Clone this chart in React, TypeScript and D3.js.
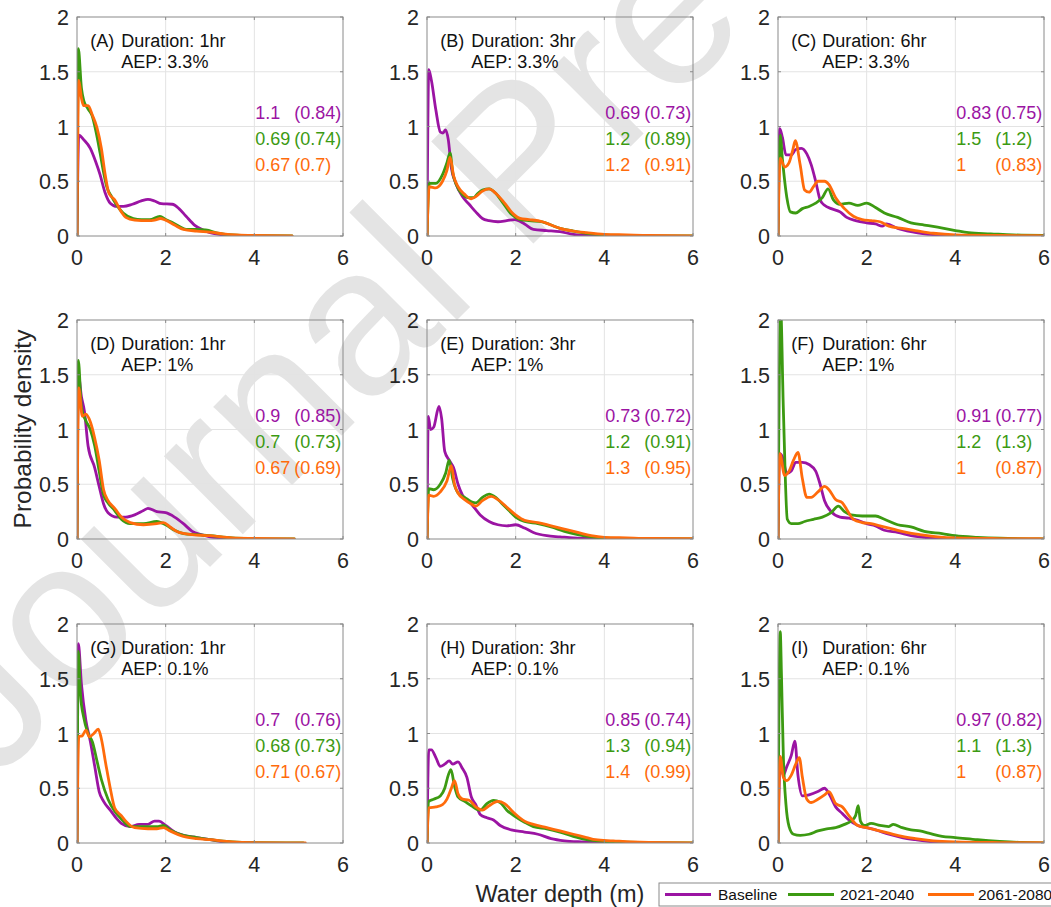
import React from 'react';
import * as d3 from 'd3';

type Pt = [number, number];

const panelLetters = ['A', 'B', 'C', 'D', 'E', 'F', 'G', 'H', 'I'];
const durations = ['1hr', '3hr', '6hr'];
const aeps = ['3.3%', '1%', '0.1%'];
const seriesNames = ['Baseline', '2021-2040', '2061-2080'];
const seriesColors = ['#9b14a3', '#3c9a12', '#ff6b0b'];
const xTicks = [0, 2, 4, 6];
const yTicks = [0, 0.5, 1, 1.5, 2];

// statistics printed in each panel: [baseline, 2021-2040, 2061-2080]
const statsMain = [
  ['1.1', '0.69', '0.67'], ['0.69', '1.2', '1.2'], ['0.83', '1.5', '1'],
  ['0.9', '0.7', '0.67'], ['0.73', '1.2', '1.3'], ['0.91', '1.2', '1'],
  ['0.7', '0.68', '0.71'], ['0.85', '1.3', '1.4'], ['0.97', '1.1', '1'],
];
const statsParen = [
  ['(0.84)', '(0.74)', '(0.7)'], ['(0.73)', '(0.89)', '(0.91)'], ['(0.75)', '(1.2)', '(0.83)'],
  ['(0.85)', '(0.73)', '(0.69)'], ['(0.72)', '(0.91)', '(0.95)'], ['(0.77)', '(1.3)', '(0.87)'],
  ['(0.76)', '(0.73)', '(0.67)'], ['(0.74)', '(0.94)', '(0.99)'], ['(0.82)', '(1.3)', '(0.87)'],
];

// ---- Panel A (1hr, 3.3%)
const A_base: Pt[] = [[0,0],[0.04,0.92],[0.15,0.88],[0.3,0.8],[0.42,0.68],[0.52,0.56],[0.63,0.4],[0.75,0.3],[0.9,0.27],[1.05,0.27],[1.25,0.29],[1.45,0.32],[1.6,0.335],[1.75,0.32],[1.9,0.295],[2.15,0.29],[2.3,0.25],[2.46,0.18],[2.65,0.1],[2.84,0.055],[3.0,0.03],[3.3,0.01],[3.6,0.003],[4.0,0]];
const A_mid: Pt[] = [[0,0],[0.03,1.71],[0.1,1.35],[0.15,1.24],[0.25,1.16],[0.34,1.1],[0.43,0.95],[0.52,0.76],[0.6,0.58],[0.67,0.45],[0.78,0.36],[0.9,0.28],[1.04,0.21],[1.27,0.16],[1.45,0.15],[1.64,0.15],[1.87,0.18],[2.0,0.15],[2.16,0.12],[2.3,0.09],[2.46,0.06],[2.7,0.06],[2.9,0.055],[3.2,0.025],[3.5,0.01],[4.0,0.003],[4.85,0]];
const A_late: Pt[] = [[0,0],[0.04,1.42],[0.1,1.26],[0.15,1.19],[0.25,1.19],[0.35,1.1],[0.45,0.99],[0.55,0.8],[0.64,0.55],[0.72,0.39],[0.85,0.33],[1.0,0.22],[1.1,0.17],[1.3,0.145],[1.6,0.14],[1.75,0.145],[1.88,0.16],[2.0,0.145],[2.2,0.1],[2.4,0.06],[2.7,0.045],[3.0,0.035],[3.3,0.02],[3.6,0.01],[4.0,0.005],[4.85,0.002]];

// ---- Panel B (3hr, 3.3%)
const B_base: Pt[] = [[0,0],[0.04,1.52],[0.1,1.42],[0.2,1.15],[0.3,0.95],[0.36,0.94],[0.42,0.97],[0.48,0.88],[0.55,0.62],[0.65,0.48],[0.8,0.36],[0.95,0.29],[1.1,0.22],[1.25,0.16],[1.4,0.14],[1.6,0.13],[1.8,0.14],[1.98,0.15],[2.2,0.11],[2.4,0.06],[2.7,0.05],[3.0,0.04],[3.3,0.015],[3.6,0.005],[4.0,0.002],[4.6,0]];
const B_mid: Pt[] = [[0,0],[0.05,0.48],[0.2,0.48],[0.35,0.56],[0.45,0.67],[0.52,0.76],[0.58,0.58],[0.66,0.47],[0.8,0.38],[0.95,0.35],[1.05,0.35],[1.15,0.39],[1.25,0.42],[1.4,0.43],[1.55,0.39],[1.7,0.31],[1.9,0.2],[2.1,0.15],[2.3,0.14],[2.6,0.13],[2.8,0.1],[3.0,0.07],[3.3,0.045],[3.6,0.025],[4.0,0.01],[4.5,0.005],[5.0,0.002],[6.0,0]];
const B_late: Pt[] = [[0,0],[0.05,0.45],[0.2,0.44],[0.35,0.5],[0.45,0.6],[0.52,0.72],[0.6,0.55],[0.7,0.45],[0.85,0.38],[1.0,0.34],[1.1,0.36],[1.25,0.41],[1.4,0.43],[1.55,0.39],[1.75,0.3],[1.95,0.2],[2.1,0.16],[2.3,0.15],[2.6,0.13],[2.8,0.1],[3.0,0.07],[3.3,0.045],[3.6,0.03],[4.0,0.015],[4.5,0.01],[5.0,0.005],[6.0,0.002]];

// ---- Panel C (6hr, 3.3%)
const C_base: Pt[] = [[0,0],[0.04,0.98],[0.1,0.9],[0.18,0.74],[0.3,0.74],[0.4,0.79],[0.53,0.8],[0.65,0.75],[0.75,0.65],[0.85,0.5],[0.95,0.33],[1.05,0.28],[1.2,0.25],[1.4,0.22],[1.55,0.17],[1.75,0.14],[2.0,0.12],[2.2,0.11],[2.35,0.09],[2.45,0.11],[2.7,0.07],[3.0,0.04],[3.3,0.02],[3.6,0.01],[4.0,0.003],[4.5,0]];
const C_mid: Pt[] = [[0,0],[0.05,0.92],[0.1,0.7],[0.2,0.35],[0.28,0.22],[0.4,0.21],[0.55,0.25],[0.7,0.27],[0.85,0.3],[1.0,0.35],[1.13,0.43],[1.25,0.33],[1.4,0.29],[1.6,0.3],[1.8,0.28],[2.0,0.3],[2.2,0.26],[2.4,0.21],[2.7,0.17],[3.0,0.12],[3.3,0.1],[3.6,0.08],[4.0,0.05],[4.3,0.03],[4.8,0.02],[5.3,0.01],[6.0,0.005]];
const C_late: Pt[] = [[0,0],[0.05,0.71],[0.15,0.63],[0.25,0.67],[0.33,0.78],[0.39,0.87],[0.5,0.65],[0.6,0.42],[0.7,0.4],[0.8,0.45],[0.9,0.5],[1.05,0.5],[1.15,0.47],[1.3,0.35],[1.5,0.25],[1.7,0.18],[1.9,0.15],[2.1,0.14],[2.3,0.13],[2.5,0.09],[2.8,0.07],[3.1,0.05],[3.5,0.025],[4.0,0.01],[5.0,0.005],[6.0,0.002]];

// ---- Panel D (1hr, 1%)
const D_base: Pt[] = [[0,0],[0.03,1.5],[0.1,1.3],[0.17,1.16],[0.25,0.85],[0.4,0.65],[0.5,0.48],[0.6,0.32],[0.7,0.24],[0.9,0.2],[1.1,0.2],[1.3,0.22],[1.5,0.26],[1.6,0.28],[1.8,0.25],[2.0,0.24],[2.2,0.2],[2.4,0.14],[2.6,0.07],[2.8,0.04],[3.0,0.02],[3.3,0.01],[3.6,0.002],[4.0,0]];
const D_mid: Pt[] = [[0,0],[0.03,1.63],[0.1,1.2],[0.2,1.08],[0.3,1.0],[0.4,0.85],[0.5,0.62],[0.6,0.4],[0.7,0.33],[0.85,0.26],[1.0,0.18],[1.2,0.14],[1.5,0.14],[1.8,0.16],[2.0,0.13],[2.2,0.08],[2.4,0.05],[2.7,0.04],[3.0,0.03],[3.5,0.01],[4.0,0.004],[4.9,0]];
const D_late: Pt[] = [[0,0],[0.04,1.38],[0.12,1.12],[0.2,1.14],[0.3,1.07],[0.4,0.92],[0.5,0.72],[0.6,0.45],[0.7,0.35],[0.85,0.28],[1.0,0.2],[1.2,0.15],[1.5,0.13],[1.8,0.14],[1.95,0.15],[2.1,0.11],[2.3,0.06],[2.6,0.04],[3.0,0.03],[3.5,0.01],[4.0,0.005],[4.9,0.001]];

// ---- Panel E (3hr, 1%)
const E_base: Pt[] = [[0,0],[0.03,1.12],[0.08,1.0],[0.15,1.02],[0.27,1.21],[0.33,1.1],[0.4,0.8],[0.5,0.72],[0.6,0.65],[0.7,0.5],[0.8,0.4],[1.0,0.32],[1.2,0.22],[1.4,0.16],[1.6,0.13],[1.8,0.12],[2.0,0.13],[2.2,0.1],[2.4,0.06],[2.7,0.03],[3.0,0.02],[3.3,0.01],[3.6,0.005],[4.0,0]];
const E_mid: Pt[] = [[0,0],[0.04,0.46],[0.15,0.45],[0.3,0.5],[0.42,0.6],[0.5,0.72],[0.58,0.55],[0.7,0.42],[0.85,0.38],[1.0,0.34],[1.1,0.33],[1.25,0.38],[1.4,0.41],[1.55,0.38],[1.7,0.32],[1.85,0.26],[2.0,0.2],[2.2,0.16],[2.5,0.14],[2.8,0.11],[3.1,0.07],[3.4,0.04],[3.7,0.02],[4.0,0.01],[4.5,0.005],[5.0,0.003],[6.0,0.002]];
const E_late: Pt[] = [[0,0],[0.04,0.4],[0.15,0.39],[0.3,0.43],[0.45,0.53],[0.55,0.67],[0.62,0.5],[0.7,0.42],[0.85,0.36],[1.0,0.32],[1.1,0.3],[1.25,0.35],[1.45,0.39],[1.6,0.36],[1.8,0.29],[2.0,0.22],[2.2,0.17],[2.5,0.15],[2.8,0.12],[3.1,0.09],[3.4,0.06],[3.7,0.03],[4.0,0.015],[4.5,0.01],[5.0,0.005],[6.0,0.003]];

// ---- Panel F (6hr, 1%)
const F_base: Pt[] = [[0,0],[0.04,0.78],[0.1,0.75],[0.2,0.6],[0.3,0.62],[0.4,0.7],[0.55,0.7],[0.7,0.68],[0.85,0.62],[0.95,0.5],[1.05,0.35],[1.2,0.25],[1.4,0.2],[1.6,0.19],[1.8,0.17],[2.0,0.14],[2.2,0.12],[2.4,0.08],[2.7,0.06],[3.0,0.03],[3.3,0.015],[3.6,0.005],[4.0,0]];
const F_mid: Pt[] = [[0,0],[0.06,2.1],[0.12,1.2],[0.21,0.18],[0.3,0.14],[0.45,0.14],[0.6,0.16],[0.8,0.18],[1.0,0.2],[1.2,0.24],[1.36,0.3],[1.5,0.25],[1.65,0.22],[1.9,0.21],[2.2,0.21],[2.4,0.18],[2.7,0.13],[3.0,0.11],[3.3,0.07],[3.7,0.05],[4.0,0.03],[4.5,0.015],[5.0,0.007],[6.0,0.002]];
const F_late: Pt[] = [[0,0],[0.04,0.78],[0.15,0.58],[0.25,0.62],[0.35,0.72],[0.45,0.79],[0.55,0.55],[0.65,0.38],[0.75,0.38],[0.9,0.43],[1.05,0.48],[1.15,0.45],[1.3,0.36],[1.45,0.33],[1.55,0.27],[1.7,0.18],[1.9,0.15],[2.1,0.14],[2.3,0.12],[2.6,0.09],[2.9,0.06],[3.2,0.04],[3.6,0.02],[4.0,0.01],[5.0,0.004],[6.0,0.002]];

// ---- Panel G (1hr, 0.1%)
const G_base: Pt[] = [[0,0],[0.03,1.82],[0.1,1.45],[0.2,1.12],[0.3,0.93],[0.4,0.7],[0.5,0.47],[0.6,0.38],[0.75,0.3],[0.9,0.22],[1.0,0.18],[1.2,0.15],[1.4,0.17],[1.6,0.17],[1.75,0.2],[1.85,0.2],[2.0,0.16],[2.2,0.1],[2.4,0.07],[2.7,0.05],[3.0,0.03],[3.3,0.01],[3.6,0.002],[4.0,0]];
const G_mid: Pt[] = [[0,0],[0.03,1.75],[0.08,1.35],[0.15,1.15],[0.25,1.0],[0.35,0.92],[0.45,0.75],[0.55,0.58],[0.7,0.4],[0.85,0.29],[1.0,0.22],[1.2,0.15],[1.5,0.15],[1.8,0.15],[1.95,0.16],[2.1,0.12],[2.4,0.07],[2.7,0.05],[3.0,0.03],[3.5,0.01],[4.0,0.003],[5.1,0]];
const G_late: Pt[] = [[0,0],[0.04,0.97],[0.12,0.98],[0.2,1.03],[0.28,0.97],[0.38,1.0],[0.48,1.04],[0.55,0.95],[0.65,0.72],[0.75,0.5],[0.85,0.32],[1.0,0.25],[1.1,0.2],[1.3,0.14],[1.6,0.13],[1.8,0.13],[1.95,0.14],[2.1,0.11],[2.4,0.06],[2.7,0.04],[3.0,0.03],[3.5,0.01],[4.0,0.004],[5.15,0.001]];

// ---- Panel H (3hr, 0.1%)
const H_base: Pt[] = [[0,0],[0.04,0.85],[0.1,0.85],[0.2,0.78],[0.3,0.7],[0.4,0.72],[0.5,0.75],[0.58,0.72],[0.7,0.74],[0.8,0.68],[0.9,0.6],[1.0,0.42],[1.1,0.35],[1.2,0.26],[1.35,0.23],[1.5,0.21],[1.65,0.16],[1.9,0.12],[2.2,0.1],[2.5,0.08],[2.8,0.04],[3.1,0.02],[3.5,0.01],[4.0,0.003],[4.5,0]];
const H_mid: Pt[] = [[0,0],[0.04,0.38],[0.15,0.4],[0.3,0.43],[0.4,0.5],[0.48,0.62],[0.54,0.67],[0.62,0.52],[0.7,0.42],[0.85,0.38],[1.0,0.34],[1.2,0.3],[1.35,0.36],[1.5,0.39],[1.65,0.37],[1.8,0.3],[2.0,0.24],[2.2,0.19],[2.4,0.15],[2.7,0.13],[3.0,0.1],[3.3,0.06],[3.6,0.03],[4.0,0.015],[4.5,0.008],[5.0,0.004],[6.0,0.002]];
const H_late: Pt[] = [[0,0],[0.04,0.32],[0.2,0.33],[0.35,0.35],[0.45,0.4],[0.55,0.5],[0.62,0.57],[0.7,0.45],[0.8,0.4],[0.95,0.39],[1.1,0.33],[1.25,0.3],[1.4,0.34],[1.6,0.38],[1.75,0.36],[1.95,0.28],[2.2,0.2],[2.4,0.17],[2.7,0.14],[3.0,0.11],[3.3,0.08],[3.6,0.05],[3.8,0.03],[4.2,0.02],[4.6,0.01],[5.0,0.005],[6.0,0.002]];

// ---- Panel I (6hr, 0.1%)
const I_base: Pt[] = [[0,0],[0.05,0.72],[0.12,0.62],[0.2,0.7],[0.3,0.8],[0.38,0.93],[0.45,0.62],[0.55,0.43],[0.7,0.44],[0.9,0.47],[1.05,0.5],[1.15,0.45],[1.3,0.33],[1.45,0.27],[1.6,0.21],[1.8,0.16],[2.0,0.14],[2.2,0.12],[2.5,0.08],[2.8,0.05],[3.1,0.03],[3.5,0.01],[4.0,0.003],[4.4,0]];
const I_mid: Pt[] = [[0,0],[0.05,1.93],[0.08,1.5],[0.12,0.8],[0.18,0.35],[0.25,0.15],[0.35,0.08],[0.5,0.07],[0.7,0.08],[0.9,0.11],[1.1,0.13],[1.3,0.14],[1.5,0.17],[1.65,0.2],[1.75,0.25],[1.81,0.34],[1.86,0.2],[1.95,0.16],[2.1,0.18],[2.3,0.16],[2.5,0.15],[2.6,0.17],[2.8,0.14],[3.0,0.12],[3.2,0.11],[3.4,0.09],[3.7,0.06],[4.0,0.05],[4.5,0.03],[5.0,0.015],[5.5,0.005],[6.0,0.002]];
const I_late: Pt[] = [[0,0],[0.05,0.79],[0.12,0.6],[0.2,0.57],[0.3,0.62],[0.4,0.72],[0.48,0.78],[0.55,0.6],[0.65,0.4],[0.75,0.37],[0.9,0.4],[1.05,0.44],[1.15,0.47],[1.3,0.36],[1.45,0.33],[1.6,0.25],[1.8,0.16],[2.0,0.14],[2.2,0.12],[2.5,0.09],[2.8,0.06],[3.1,0.04],[3.5,0.02],[4.0,0.01],[5.0,0.004],[6.0,0.002]];

const panelSeries: Pt[][][] = [
  [A_base, A_mid, A_late], [B_base, B_mid, B_late], [C_base, C_mid, C_late],
  [D_base, D_mid, D_late], [E_base, E_mid, E_late], [F_base, F_mid, F_late],
  [G_base, G_mid, G_late], [H_base, H_mid, H_late], [I_base, I_mid, I_late],
];

const W = 1051;
const H = 907;
const colLeft = [77, 427, 778];
const rowTop = [17, 320, 624];
const PW = 266;
const PH = 219;
const FONT = '"Liberation Sans", Arial, Helvetica, sans-serif';
const AXIS_COLOR = '#8a8a8a';
const TEXT_COLOR = '#262626';

function Panel({ idx }: { idx: number }) {
  const r = Math.floor(idx / 3);
  const c = idx % 3;
  const left = colLeft[c];
  const top = rowTop[r];
  const x = d3.scaleLinear().domain([0, 6]).range([left, left + PW]);
  const y = d3.scaleLinear().domain([0, 2]).range([top + PH, top]);
  const line = d3
    .line<Pt>()
    .x((d) => x(d[0]))
    .y((d) => y(d[1]))
    .curve(d3.curveMonotoneX);
  const clipId = `clip-${idx}`;
  return (
    <g>
      <defs>
        <clipPath id={clipId}>
          <rect x={left} y={top} width={PW} height={PH} />
        </clipPath>
      </defs>
      {xTicks.slice(1, -1).map((t) => (
        <line key={'gx' + t} x1={x(t)} x2={x(t)} y1={top} y2={top + PH} stroke="#e3e3e3" strokeWidth={1} />
      ))}
      {yTicks.slice(1, -1).map((t) => (
        <line key={'gy' + t} x1={left} x2={left + PW} y1={y(t)} y2={y(t)} stroke="#e3e3e3" strokeWidth={1} />
      ))}
      <g clipPath={`url(#${clipId})`}>
        {panelSeries[idx].map((s, k) => (
          <path key={k} d={line(s) || ''} fill="none" stroke={seriesColors[k]} strokeWidth={2.8} strokeLinejoin="round" strokeLinecap="round" />
        ))}
      </g>
      <rect x={left} y={top} width={PW} height={PH} fill="none" stroke={AXIS_COLOR} strokeWidth={1} />
      {xTicks.map((t) => (
        <g key={'tx' + t}>
          <line x1={x(t)} x2={x(t)} y1={top + PH} y2={top + PH - 3} stroke={AXIS_COLOR} />
          <line x1={x(t)} x2={x(t)} y1={top} y2={top + 3} stroke={AXIS_COLOR} />
        </g>
      ))}
      {yTicks.map((t) => (
        <g key={'ty' + t}>
          <line x1={left} x2={left + 3} y1={y(t)} y2={y(t)} stroke={AXIS_COLOR} />
          <line x1={left + PW} x2={left + PW - 3} y1={y(t)} y2={y(t)} stroke={AXIS_COLOR} />
        </g>
      ))}
      {xTicks.map((t) => (
        <text key={'lx' + t} x={x(t)} y={top + PH + 29} textAnchor="middle" fontSize={21.5} fill={TEXT_COLOR} fontFamily={FONT}>
          {t}
        </text>
      ))}
      {yTicks.map((t) => (
        <text key={'ly' + t} x={left - 8} y={y(t) + 8} textAnchor="end" fontSize={21.5} fill={TEXT_COLOR} fontFamily={FONT}>
          {t}
        </text>
      ))}
      <text x={x(0.3)} y={top + 30} fontSize={18} fill="#111" fontFamily={FONT}>
        ({panelLetters[idx]})
      </text>
      <text x={x(1.0)} y={top + 30} fontSize={18} fill="#111" fontFamily={FONT}>
        Duration: {durations[c]}
      </text>
      <text x={x(1.0)} y={top + 51} fontSize={18} fill="#111" fontFamily={FONT}>
        AEP: {aeps[r]}
      </text>
      {[0, 1, 2].map((k) => (
        <g key={'st' + k}>
          <text x={x(4.02)} y={top + 102 + k * 26} fontSize={18} fill={seriesColors[k]} fontFamily={FONT}>
            {statsMain[idx][k]}
          </text>
          <text x={x(4.9)} y={top + 102 + k * 26} fontSize={18} fill={seriesColors[k]} fontFamily={FONT}>
            {statsParen[idx][k]}
          </text>
        </g>
      ))}
    </g>
  );
}

export default function App() {
  const legendItems = [
    { x1: 665, tx: 718 },
    { x1: 788, tx: 840 },
    { x1: 928, tx: 978 },
  ];
  return (
    <svg width={W} height={H} style={{ position: 'absolute', left: 0, top: 0, background: '#fff' }} fontFamily={FONT}>
      <rect x={0} y={0} width={W} height={H} fill="#fff" />
      <text transform="translate(-7,784) rotate(-45)" fontSize={210} fill="#e4e4e4" fontFamily={FONT}>
        Journal Pre-proof
      </text>
      {d3.range(9).map((i) => (
        <Panel key={i} idx={i} />
      ))}
      <text transform="translate(31,429) rotate(-90)" textAnchor="middle" fontSize={24.5} fill={TEXT_COLOR} fontFamily={FONT}>
        Probability density
      </text>
      <text x={560} y={902} textAnchor="middle" fontSize={23.5} fill={TEXT_COLOR} fontFamily={FONT}>
        Water depth (m)
      </text>
      <rect x={659} y={883} width={420} height={23} fill="#fff" stroke={AXIS_COLOR} strokeWidth={1} />
      {legendItems.map((it, k) => (
        <g key={k}>
          <line x1={it.x1} x2={it.x1 + 46} y1={894.5} y2={894.5} stroke={seriesColors[k]} strokeWidth={2.8} />
          <text x={it.tx} y={900} fontSize={15.5} fill="#111" fontFamily={FONT}>
            {seriesNames[k]}
          </text>
        </g>
      ))}
    </svg>
  );
}
